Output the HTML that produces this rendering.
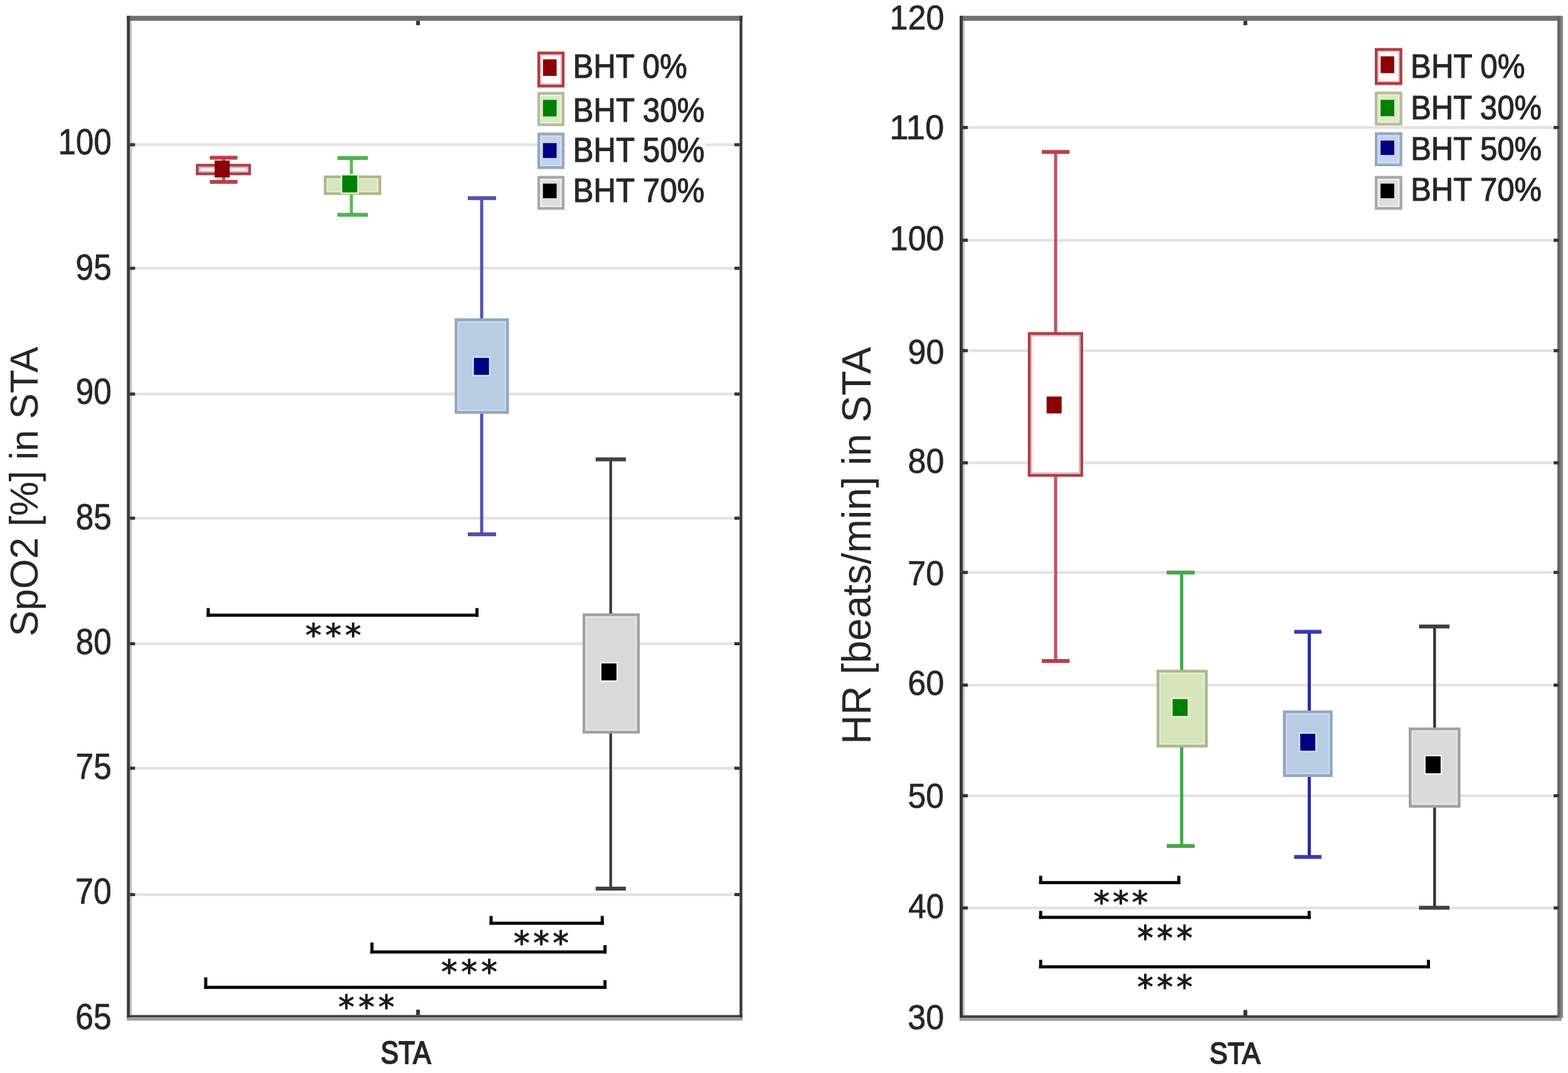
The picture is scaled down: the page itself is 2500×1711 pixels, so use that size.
<!DOCTYPE html>
<html><head><meta charset="utf-8"><style>
html,body{margin:0;padding:0;background:#fff;overflow:hidden;}
svg{display:block;}

</style></head><body>
<svg width="2500" height="1711" viewBox="0 0 2500 1711" font-family="Liberation Sans, Arial, sans-serif">
<g>
<rect width="2500" height="1711" fill="#ffffff"/>
<rect x="204.80" y="228.55" width="976.60" height="4.50" fill="#e3e3e3"/>
<rect x="204.80" y="425.55" width="976.60" height="4.50" fill="#e3e3e3"/>
<rect x="204.80" y="626.05" width="976.60" height="4.50" fill="#e3e3e3"/>
<rect x="204.80" y="824.05" width="976.60" height="4.50" fill="#e3e3e3"/>
<rect x="204.80" y="1024.25" width="976.60" height="4.50" fill="#e3e3e3"/>
<rect x="204.80" y="1222.75" width="976.60" height="4.50" fill="#e3e3e3"/>
<rect x="204.80" y="1424.25" width="976.60" height="4.50" fill="#e3e3e3"/>
<rect x="1532.50" y="201.05" width="955.00" height="4.50" fill="#e3e3e3"/>
<rect x="1532.50" y="380.85" width="955.00" height="4.50" fill="#e3e3e3"/>
<rect x="1532.50" y="556.85" width="955.00" height="4.50" fill="#e3e3e3"/>
<rect x="1532.50" y="735.75" width="955.00" height="4.50" fill="#e3e3e3"/>
<rect x="1532.50" y="910.55" width="955.00" height="4.50" fill="#e3e3e3"/>
<rect x="1532.50" y="1090.25" width="955.00" height="4.50" fill="#e3e3e3"/>
<rect x="1532.50" y="1266.65" width="955.00" height="4.50" fill="#e3e3e3"/>
<rect x="1532.50" y="1445.55" width="955.00" height="4.50" fill="#e3e3e3"/>
<rect x="202.30" y="25.20" width="981.60" height="8.00" fill="#707070"/>
<rect x="202.30" y="1618.50" width="981.60" height="4.00" fill="#404040"/>
<rect x="202.30" y="1622.50" width="981.60" height="5.00" fill="#a0a0a0"/>
<rect x="202.30" y="25.20" width="5.00" height="1597.30" fill="#3a3a3a"/>
<rect x="207.30" y="33.20" width="3.00" height="1585.30" fill="#c4c4c4"/>
<rect x="1179.20" y="25.20" width="4.40" height="1597.30" fill="#3a3a3a"/>
<rect x="207.30" y="228.30" width="8.00" height="5.00" fill="#333333"/>
<rect x="1170.90" y="228.30" width="8.30" height="5.00" fill="#333333"/>
<rect x="207.30" y="425.30" width="8.00" height="5.00" fill="#333333"/>
<rect x="1170.90" y="425.30" width="8.30" height="5.00" fill="#333333"/>
<rect x="207.30" y="625.80" width="8.00" height="5.00" fill="#333333"/>
<rect x="1170.90" y="625.80" width="8.30" height="5.00" fill="#333333"/>
<rect x="207.30" y="823.80" width="8.00" height="5.00" fill="#333333"/>
<rect x="1170.90" y="823.80" width="8.30" height="5.00" fill="#333333"/>
<rect x="207.30" y="1024.00" width="8.00" height="5.00" fill="#333333"/>
<rect x="1170.90" y="1024.00" width="8.30" height="5.00" fill="#333333"/>
<rect x="207.30" y="1222.50" width="8.00" height="5.00" fill="#333333"/>
<rect x="1170.90" y="1222.50" width="8.30" height="5.00" fill="#333333"/>
<rect x="207.30" y="1424.00" width="8.00" height="5.00" fill="#333333"/>
<rect x="1170.90" y="1424.00" width="8.30" height="5.00" fill="#333333"/>
<rect x="663.50" y="33.20" width="6.00" height="7.00" fill="#333333"/>
<rect x="663.50" y="1610.00" width="6.00" height="8.50" fill="#333333"/>
<rect x="1530.00" y="25.20" width="960.00" height="8.00" fill="#707070"/>
<rect x="1530.00" y="1619.00" width="960.00" height="4.00" fill="#404040"/>
<rect x="1530.00" y="1623.00" width="960.00" height="5.00" fill="#a0a0a0"/>
<rect x="1530.00" y="25.20" width="5.00" height="1597.80" fill="#3a3a3a"/>
<rect x="1535.00" y="33.20" width="3.00" height="1585.80" fill="#c4c4c4"/>
<rect x="2483.00" y="25.20" width="5.00" height="1597.80" fill="#686868"/>
<rect x="2488.00" y="25.20" width="4.00" height="1597.80" fill="#858585"/>
<rect x="1535.00" y="200.80" width="8.00" height="5.00" fill="#333333"/>
<rect x="2477.00" y="200.80" width="8.30" height="5.00" fill="#333333"/>
<rect x="1535.00" y="380.60" width="8.00" height="5.00" fill="#333333"/>
<rect x="2477.00" y="380.60" width="8.30" height="5.00" fill="#333333"/>
<rect x="1535.00" y="556.60" width="8.00" height="5.00" fill="#333333"/>
<rect x="2477.00" y="556.60" width="8.30" height="5.00" fill="#333333"/>
<rect x="1535.00" y="735.50" width="8.00" height="5.00" fill="#333333"/>
<rect x="2477.00" y="735.50" width="8.30" height="5.00" fill="#333333"/>
<rect x="1535.00" y="910.30" width="8.00" height="5.00" fill="#333333"/>
<rect x="2477.00" y="910.30" width="8.30" height="5.00" fill="#333333"/>
<rect x="1535.00" y="1090.00" width="8.00" height="5.00" fill="#333333"/>
<rect x="2477.00" y="1090.00" width="8.30" height="5.00" fill="#333333"/>
<rect x="1535.00" y="1266.40" width="8.00" height="5.00" fill="#333333"/>
<rect x="2477.00" y="1266.40" width="8.30" height="5.00" fill="#333333"/>
<rect x="1535.00" y="1445.30" width="8.00" height="5.00" fill="#333333"/>
<rect x="2477.00" y="1445.30" width="8.30" height="5.00" fill="#333333"/>
<rect x="1982.60" y="33.20" width="6.00" height="7.00" fill="#333333"/>
<rect x="1982.60" y="1610.50" width="6.00" height="8.50" fill="#333333"/>
<rect x="354.10" y="251.50" width="5.00" height="38.50" fill="#bb5662"/>
<rect x="334.60" y="248.40" width="44.00" height="6.20" fill="#b8404e"/>
<rect x="334.60" y="286.90" width="44.00" height="6.20" fill="#b8404e"/>
<rect x="314.55" y="263.55" width="83.40" height="13.60" fill="#ffffff" stroke="#a6424c" stroke-width="4.5"/>
<rect x="318.05" y="267.05" width="76.40" height="6.60" fill="none" stroke="#e2b4ba" stroke-width="2.5"/>
<rect x="342.20" y="256.00" width="24.00" height="27.00" fill="#8b0000"/>
<rect x="557.70" y="252.00" width="5.00" height="90.50" fill="#5cb85c"/>
<rect x="538.00" y="248.90" width="48.60" height="6.20" fill="#52b052"/>
<rect x="538.00" y="339.40" width="48.60" height="6.20" fill="#52b052"/>
<rect x="518.55" y="282.05" width="87.00" height="26.60" fill="#d8e4bc" stroke="#adb68e" stroke-width="4.5"/>
<rect x="522.05" y="285.55" width="80.00" height="19.60" fill="none" stroke="#e4edcc" stroke-width="2.5"/>
<rect x="543.10" y="277.30" width="29.00" height="32.00" fill="#e8f0d6"/>
<rect x="545.60" y="279.80" width="24.00" height="27.00" fill="#008000"/>
<rect x="765.50" y="316.00" width="5.00" height="536.00" fill="#5252b0"/>
<rect x="745.80" y="312.90" width="45.20" height="6.20" fill="#5252b0"/>
<rect x="745.80" y="848.90" width="45.20" height="6.20" fill="#5252b0"/>
<rect x="727.15" y="509.75" width="82.10" height="147.80" fill="#b8cce4" stroke="#93a6c2" stroke-width="4.5"/>
<rect x="730.65" y="513.25" width="75.10" height="140.80" fill="none" stroke="#c8d8ee" stroke-width="2.5"/>
<rect x="753.10" y="568.20" width="29.00" height="32.00" fill="#d2e0f2"/>
<rect x="755.60" y="570.70" width="24.00" height="27.00" fill="#000080"/>
<rect x="971.60" y="732.50" width="4.20" height="684.50" fill="#383838"/>
<rect x="949.70" y="729.40" width="48.20" height="6.20" fill="#404040"/>
<rect x="949.70" y="1413.90" width="48.20" height="6.20" fill="#404040"/>
<rect x="931.15" y="980.35" width="86.60" height="187.10" fill="#d9d9d9" stroke="#a0a0a0" stroke-width="4.5"/>
<rect x="934.65" y="983.85" width="79.60" height="180.10" fill="none" stroke="#e4e4e4" stroke-width="2.5"/>
<rect x="956.40" y="1055.40" width="29.00" height="32.00" fill="#f0f0f0"/>
<rect x="958.90" y="1057.90" width="24.00" height="27.00" fill="#000000"/>
<rect x="1680.60" y="242.30" width="5.00" height="811.70" fill="#bb5662"/>
<rect x="1661.00" y="239.20" width="44.30" height="6.20" fill="#b8404e"/>
<rect x="1661.00" y="1050.90" width="44.30" height="6.20" fill="#b8404e"/>
<rect x="1640.95" y="531.75" width="83.70" height="226.30" fill="#ffffff" stroke="#a6424c" stroke-width="4.5"/>
<rect x="1644.45" y="535.25" width="76.70" height="219.30" fill="none" stroke="#e2b4ba" stroke-width="2.5"/>
<rect x="1668.70" y="632.30" width="24.00" height="27.00" fill="#8b0000"/>
<rect x="1881.50" y="913.00" width="5.00" height="436.00" fill="#3fa444"/>
<rect x="1860.20" y="909.90" width="44.60" height="6.20" fill="#45a849"/>
<rect x="1860.20" y="1345.90" width="44.60" height="6.20" fill="#45a849"/>
<rect x="1846.35" y="1070.35" width="77.00" height="119.30" fill="#d8e4bc" stroke="#adb68e" stroke-width="4.5"/>
<rect x="1849.85" y="1073.85" width="70.00" height="112.30" fill="none" stroke="#e4edcc" stroke-width="2.5"/>
<rect x="1867.10" y="1112.20" width="29.00" height="32.00" fill="#e8f0d6"/>
<rect x="1869.60" y="1114.70" width="24.00" height="27.00" fill="#008000"/>
<rect x="2085.00" y="1007.50" width="5.00" height="359.00" fill="#2a2aa0"/>
<rect x="2063.40" y="1004.40" width="43.50" height="6.20" fill="#3a3aa8"/>
<rect x="2063.40" y="1363.40" width="43.50" height="6.20" fill="#3a3aa8"/>
<rect x="2047.75" y="1135.15" width="74.70" height="101.60" fill="#b8cce4" stroke="#93a6c2" stroke-width="4.5"/>
<rect x="2051.25" y="1138.65" width="67.70" height="94.60" fill="none" stroke="#c8d8ee" stroke-width="2.5"/>
<rect x="2070.60" y="1167.60" width="29.00" height="32.00" fill="#d2e0f2"/>
<rect x="2073.10" y="1170.10" width="24.00" height="27.00" fill="#000080"/>
<rect x="2285.05" y="999.00" width="4.50" height="448.50" fill="#383838"/>
<rect x="2262.50" y="995.90" width="48.50" height="6.20" fill="#404040"/>
<rect x="2262.50" y="1444.40" width="48.50" height="6.20" fill="#404040"/>
<rect x="2248.35" y="1162.35" width="78.00" height="123.30" fill="#d9d9d9" stroke="#a0a0a0" stroke-width="4.5"/>
<rect x="2251.85" y="1165.85" width="71.00" height="116.30" fill="none" stroke="#e4e4e4" stroke-width="2.5"/>
<rect x="2270.40" y="1203.50" width="29.00" height="32.00" fill="#f0f0f0"/>
<rect x="2272.90" y="1206.00" width="24.00" height="27.00" fill="#000000"/>
<rect x="902.00" y="80.70" width="195.50" height="50.70" fill="#ffffff"/>
<rect x="902.00" y="149.30" width="223.20" height="51.60" fill="#ffffff"/>
<rect x="902.00" y="213.40" width="223.20" height="51.90" fill="#ffffff"/>
<rect x="902.00" y="278.60" width="223.20" height="50.80" fill="#ffffff"/>
<rect x="859.05" y="84.55" width="38.70" height="52.70" fill="#ffffff" stroke="#b03a44" stroke-width="4.5"/>
<rect x="862.30" y="87.80" width="32.20" height="46.20" fill="none" stroke="#e6bcc2" stroke-width="2"/>
<rect x="865.70" y="94.60" width="21.80" height="26.40" fill="#8b0000"/>
<text transform="translate(913.52,124.32) scale(0.9284,1)" font-size="52.96" fill="#262626" stroke="#262626" stroke-width="1.14">BHT 0%</text>
<rect x="859.05" y="148.75" width="38.70" height="50.10" fill="#dde8c6" stroke="#b4bd98" stroke-width="4.5"/>
<rect x="862.30" y="152.00" width="32.20" height="43.60" fill="none" stroke="#e9f1d6" stroke-width="2"/>
<rect x="865.70" y="159.30" width="21.80" height="26.40" fill="#008000"/>
<text transform="translate(913.51,193.81) scale(0.9085,1)" font-size="54.23" fill="#262626" stroke="#262626" stroke-width="1.15">BHT 30%</text>
<rect x="859.05" y="213.65" width="38.70" height="53.60" fill="#c2d3ea" stroke="#95a7c4" stroke-width="4.5"/>
<rect x="862.30" y="216.90" width="32.20" height="47.10" fill="none" stroke="#d2e0f2" stroke-width="2"/>
<rect x="865.70" y="228.20" width="21.80" height="23.70" fill="#000080"/>
<text transform="translate(913.51,258.20) scale(0.9015,1)" font-size="54.65" fill="#262626" stroke="#262626" stroke-width="1.16">BHT 50%</text>
<rect x="859.05" y="282.75" width="38.70" height="49.60" fill="#dedede" stroke="#a8a8a8" stroke-width="4.5"/>
<rect x="862.30" y="286.00" width="32.20" height="43.10" fill="none" stroke="#f2f2f2" stroke-width="2"/>
<rect x="865.70" y="292.80" width="21.80" height="23.30" fill="#000000"/>
<text transform="translate(913.51,322.32) scale(0.9278,1)" font-size="53.10" fill="#262626" stroke="#262626" stroke-width="1.14">BHT 70%</text>
<rect x="2237.80" y="80.30" width="195.50" height="51.10" fill="#ffffff"/>
<rect x="2237.80" y="145.40" width="222.00" height="51.20" fill="#ffffff"/>
<rect x="2237.80" y="211.90" width="222.00" height="50.50" fill="#ffffff"/>
<rect x="2237.80" y="276.60" width="222.00" height="50.50" fill="#ffffff"/>
<rect x="2194.25" y="78.85" width="39.30" height="54.40" fill="#ffffff" stroke="#b03a44" stroke-width="4.5"/>
<rect x="2197.50" y="82.10" width="32.80" height="47.90" fill="none" stroke="#e6bcc2" stroke-width="2"/>
<rect x="2201.20" y="89.80" width="21.80" height="26.80" fill="#8b0000"/>
<text transform="translate(2249.11,124.31) scale(0.9196,1)" font-size="53.52" fill="#262626" stroke="#262626" stroke-width="1.15">BHT 0%</text>
<rect x="2194.25" y="148.35" width="39.30" height="49.60" fill="#dde8c6" stroke="#b4bd98" stroke-width="4.5"/>
<rect x="2197.50" y="151.60" width="32.80" height="43.10" fill="none" stroke="#e9f1d6" stroke-width="2"/>
<rect x="2201.20" y="159.30" width="21.80" height="25.90" fill="#008000"/>
<text transform="translate(2249.13,189.51) scale(0.9136,1)" font-size="53.66" fill="#262626" stroke="#262626" stroke-width="1.15">BHT 30%</text>
<rect x="2194.25" y="213.25" width="39.30" height="49.60" fill="#c2d3ea" stroke="#95a7c4" stroke-width="4.5"/>
<rect x="2197.50" y="216.50" width="32.80" height="43.10" fill="none" stroke="#d2e0f2" stroke-width="2"/>
<rect x="2201.20" y="224.20" width="21.80" height="22.90" fill="#000080"/>
<text transform="translate(2249.13,255.32) scale(0.9306,1)" font-size="52.68" fill="#262626" stroke="#262626" stroke-width="1.14">BHT 50%</text>
<rect x="2194.25" y="282.75" width="39.30" height="49.60" fill="#dedede" stroke="#a8a8a8" stroke-width="4.5"/>
<rect x="2197.50" y="286.00" width="32.80" height="43.10" fill="none" stroke="#f2f2f2" stroke-width="2"/>
<rect x="2201.20" y="292.80" width="21.80" height="23.30" fill="#000000"/>
<text transform="translate(2249.13,320.02) scale(0.9306,1)" font-size="52.68" fill="#262626" stroke="#262626" stroke-width="1.14">BHT 70%</text>
<text transform="translate(92.84,245.98) scale(0.8979,1)" font-size="56.62" fill="#262626" stroke="#262626" stroke-width="0.74">100</text>
<text transform="translate(120.53,446.38) scale(0.9075,1)" font-size="56.76" fill="#262626" stroke="#262626" stroke-width="0.73">95</text>
<text transform="translate(120.64,644.38) scale(0.9058,1)" font-size="56.76" fill="#262626" stroke="#262626" stroke-width="0.73">90</text>
<text transform="translate(120.64,844.18) scale(0.9058,1)" font-size="56.76" fill="#262626" stroke="#262626" stroke-width="0.73">85</text>
<text transform="translate(120.74,1042.68) scale(0.9041,1)" font-size="56.76" fill="#262626" stroke="#262626" stroke-width="0.74">80</text>
<text transform="translate(120.47,1241.97) scale(0.8957,1)" font-size="57.57" fill="#262626" stroke="#262626" stroke-width="0.74">75</text>
<text transform="translate(120.16,1441.38) scale(0.9137,1)" font-size="56.76" fill="#262626" stroke="#262626" stroke-width="0.73">70</text>
<text transform="translate(120.37,1640.58) scale(0.9103,1)" font-size="56.76" fill="#262626" stroke="#262626" stroke-width="0.73">65</text>
<text transform="translate(1418.44,47.00) scale(0.9418,1)" font-size="55.35" fill="#262626" stroke="#262626" stroke-width="0.72">120</text>
<text transform="translate(1418.26,222.10) scale(0.9863,1)" font-size="55.35" fill="#262626" stroke="#262626" stroke-width="0.70">110</text>
<text transform="translate(1418.86,398.60) scale(0.9371,1)" font-size="55.35" fill="#262626" stroke="#262626" stroke-width="0.72">100</text>
<text transform="translate(1447.51,579.60) scale(0.9394,1)" font-size="55.35" fill="#262626" stroke="#262626" stroke-width="0.72">90</text>
<text transform="translate(1447.51,754.30) scale(0.9394,1)" font-size="55.35" fill="#262626" stroke="#262626" stroke-width="0.72">80</text>
<text transform="translate(1447.24,933.00) scale(0.9440,1)" font-size="55.35" fill="#262626" stroke="#262626" stroke-width="0.72">70</text>
<text transform="translate(1447.24,1108.30) scale(0.9440,1)" font-size="55.35" fill="#262626" stroke="#262626" stroke-width="0.72">60</text>
<text transform="translate(1447.58,1288.00) scale(0.9349,1)" font-size="55.35" fill="#262626" stroke="#262626" stroke-width="0.72">50</text>
<text transform="translate(1448.27,1463.60) scale(0.9232,1)" font-size="55.35" fill="#262626" stroke="#262626" stroke-width="0.73">40</text>
<text transform="translate(1447.27,1640.50) scale(0.9401,1)" font-size="55.35" fill="#262626" stroke="#262626" stroke-width="0.72">30</text>
<text transform="translate(59.82,1014.78) rotate(-90) scale(0.9831,1)" font-size="62.78" fill="#262626" stroke="#262626" stroke-width="0.00">SpO2 [%] in STA</text>
<text transform="translate(1387.52,1186.66) rotate(-90) scale(1.0059,1)" font-size="64.17" fill="#262626" stroke="#262626" stroke-width="0.00">HR [beats/min] in STA</text>
<text transform="translate(606.98,1695.90) scale(0.8621,1)" font-size="49.58" fill="#262626" stroke="#262626" stroke-width="1.93">STA</text>
<text transform="translate(1928.55,1695.52) scale(0.9028,1)" font-size="47.89" fill="#262626" stroke="#262626" stroke-width="1.89">STA</text>
<rect x="329.50" y="978.50" width="433.50" height="5.00" fill="#080808"/>
<rect x="329.50" y="969.60" width="5.00" height="13.90" fill="#080808"/>
<rect x="758.00" y="969.60" width="5.00" height="13.90" fill="#080808"/>
<rect x="780.50" y="1469.70" width="182.20" height="5.00" fill="#080808"/>
<rect x="780.50" y="1460.50" width="5.00" height="14.20" fill="#080808"/>
<rect x="957.70" y="1460.50" width="5.00" height="14.20" fill="#080808"/>
<rect x="590.50" y="1515.50" width="376.60" height="5.00" fill="#080808"/>
<rect x="590.50" y="1502.90" width="5.00" height="17.60" fill="#080808"/>
<rect x="962.10" y="1507.00" width="5.00" height="13.50" fill="#080808"/>
<rect x="325.50" y="1571.90" width="641.60" height="5.00" fill="#080808"/>
<rect x="325.50" y="1558.40" width="5.00" height="18.50" fill="#080808"/>
<rect x="962.10" y="1562.90" width="5.00" height="14.00" fill="#080808"/>
<rect x="1656.70" y="1404.90" width="225.30" height="5.00" fill="#080808"/>
<rect x="1656.70" y="1396.50" width="5.00" height="13.40" fill="#080808"/>
<rect x="1877.00" y="1396.50" width="5.00" height="13.40" fill="#080808"/>
<rect x="1656.70" y="1460.30" width="433.10" height="5.00" fill="#080808"/>
<rect x="1656.70" y="1452.50" width="5.00" height="12.80" fill="#080808"/>
<rect x="2084.80" y="1452.50" width="5.00" height="12.80" fill="#080808"/>
<rect x="1656.70" y="1539.20" width="623.30" height="5.00" fill="#080808"/>
<rect x="1656.70" y="1530.50" width="5.00" height="13.70" fill="#080808"/>
<rect x="2275.00" y="1530.50" width="5.00" height="13.70" fill="#080808"/>
<text transform="translate(487.07,1029.92) scale(1.0362,1)" font-family="DejaVu Sans, sans-serif" font-size="49.35" letter-spacing="5.87" fill="#1a1a1a" stroke="#1a1a1a" stroke-width="1.1">***</text>
<text transform="translate(818.97,1521.54) scale(1.0052,1)" font-family="DejaVu Sans, sans-serif" font-size="50.87" letter-spacing="5.60" fill="#1a1a1a" stroke="#1a1a1a" stroke-width="1.1">***</text>
<text transform="translate(703.47,1568.34) scale(1.0052,1)" font-family="DejaVu Sans, sans-serif" font-size="50.87" letter-spacing="6.30" fill="#1a1a1a" stroke="#1a1a1a" stroke-width="1.1">***</text>
<text transform="translate(539.57,1623.94) scale(1.0052,1)" font-family="DejaVu Sans, sans-serif" font-size="50.87" letter-spacing="6.30" fill="#1a1a1a" stroke="#1a1a1a" stroke-width="1.1">***</text>
<text transform="translate(1743.57,1456.32) scale(1.0362,1)" font-family="DejaVu Sans, sans-serif" font-size="49.35" letter-spacing="4.90" fill="#1a1a1a" stroke="#1a1a1a" stroke-width="1.1">***</text>
<text transform="translate(1813.17,1514.03) scale(0.9720,1)" font-family="DejaVu Sans, sans-serif" font-size="52.61" letter-spacing="5.95" fill="#1a1a1a" stroke="#1a1a1a" stroke-width="1.1">***</text>
<text transform="translate(1813.17,1591.77) scale(0.9967,1)" font-family="DejaVu Sans, sans-serif" font-size="51.30" letter-spacing="5.80" fill="#1a1a1a" stroke="#1a1a1a" stroke-width="1.1">***</text>
</g>
</svg>
</body></html>
